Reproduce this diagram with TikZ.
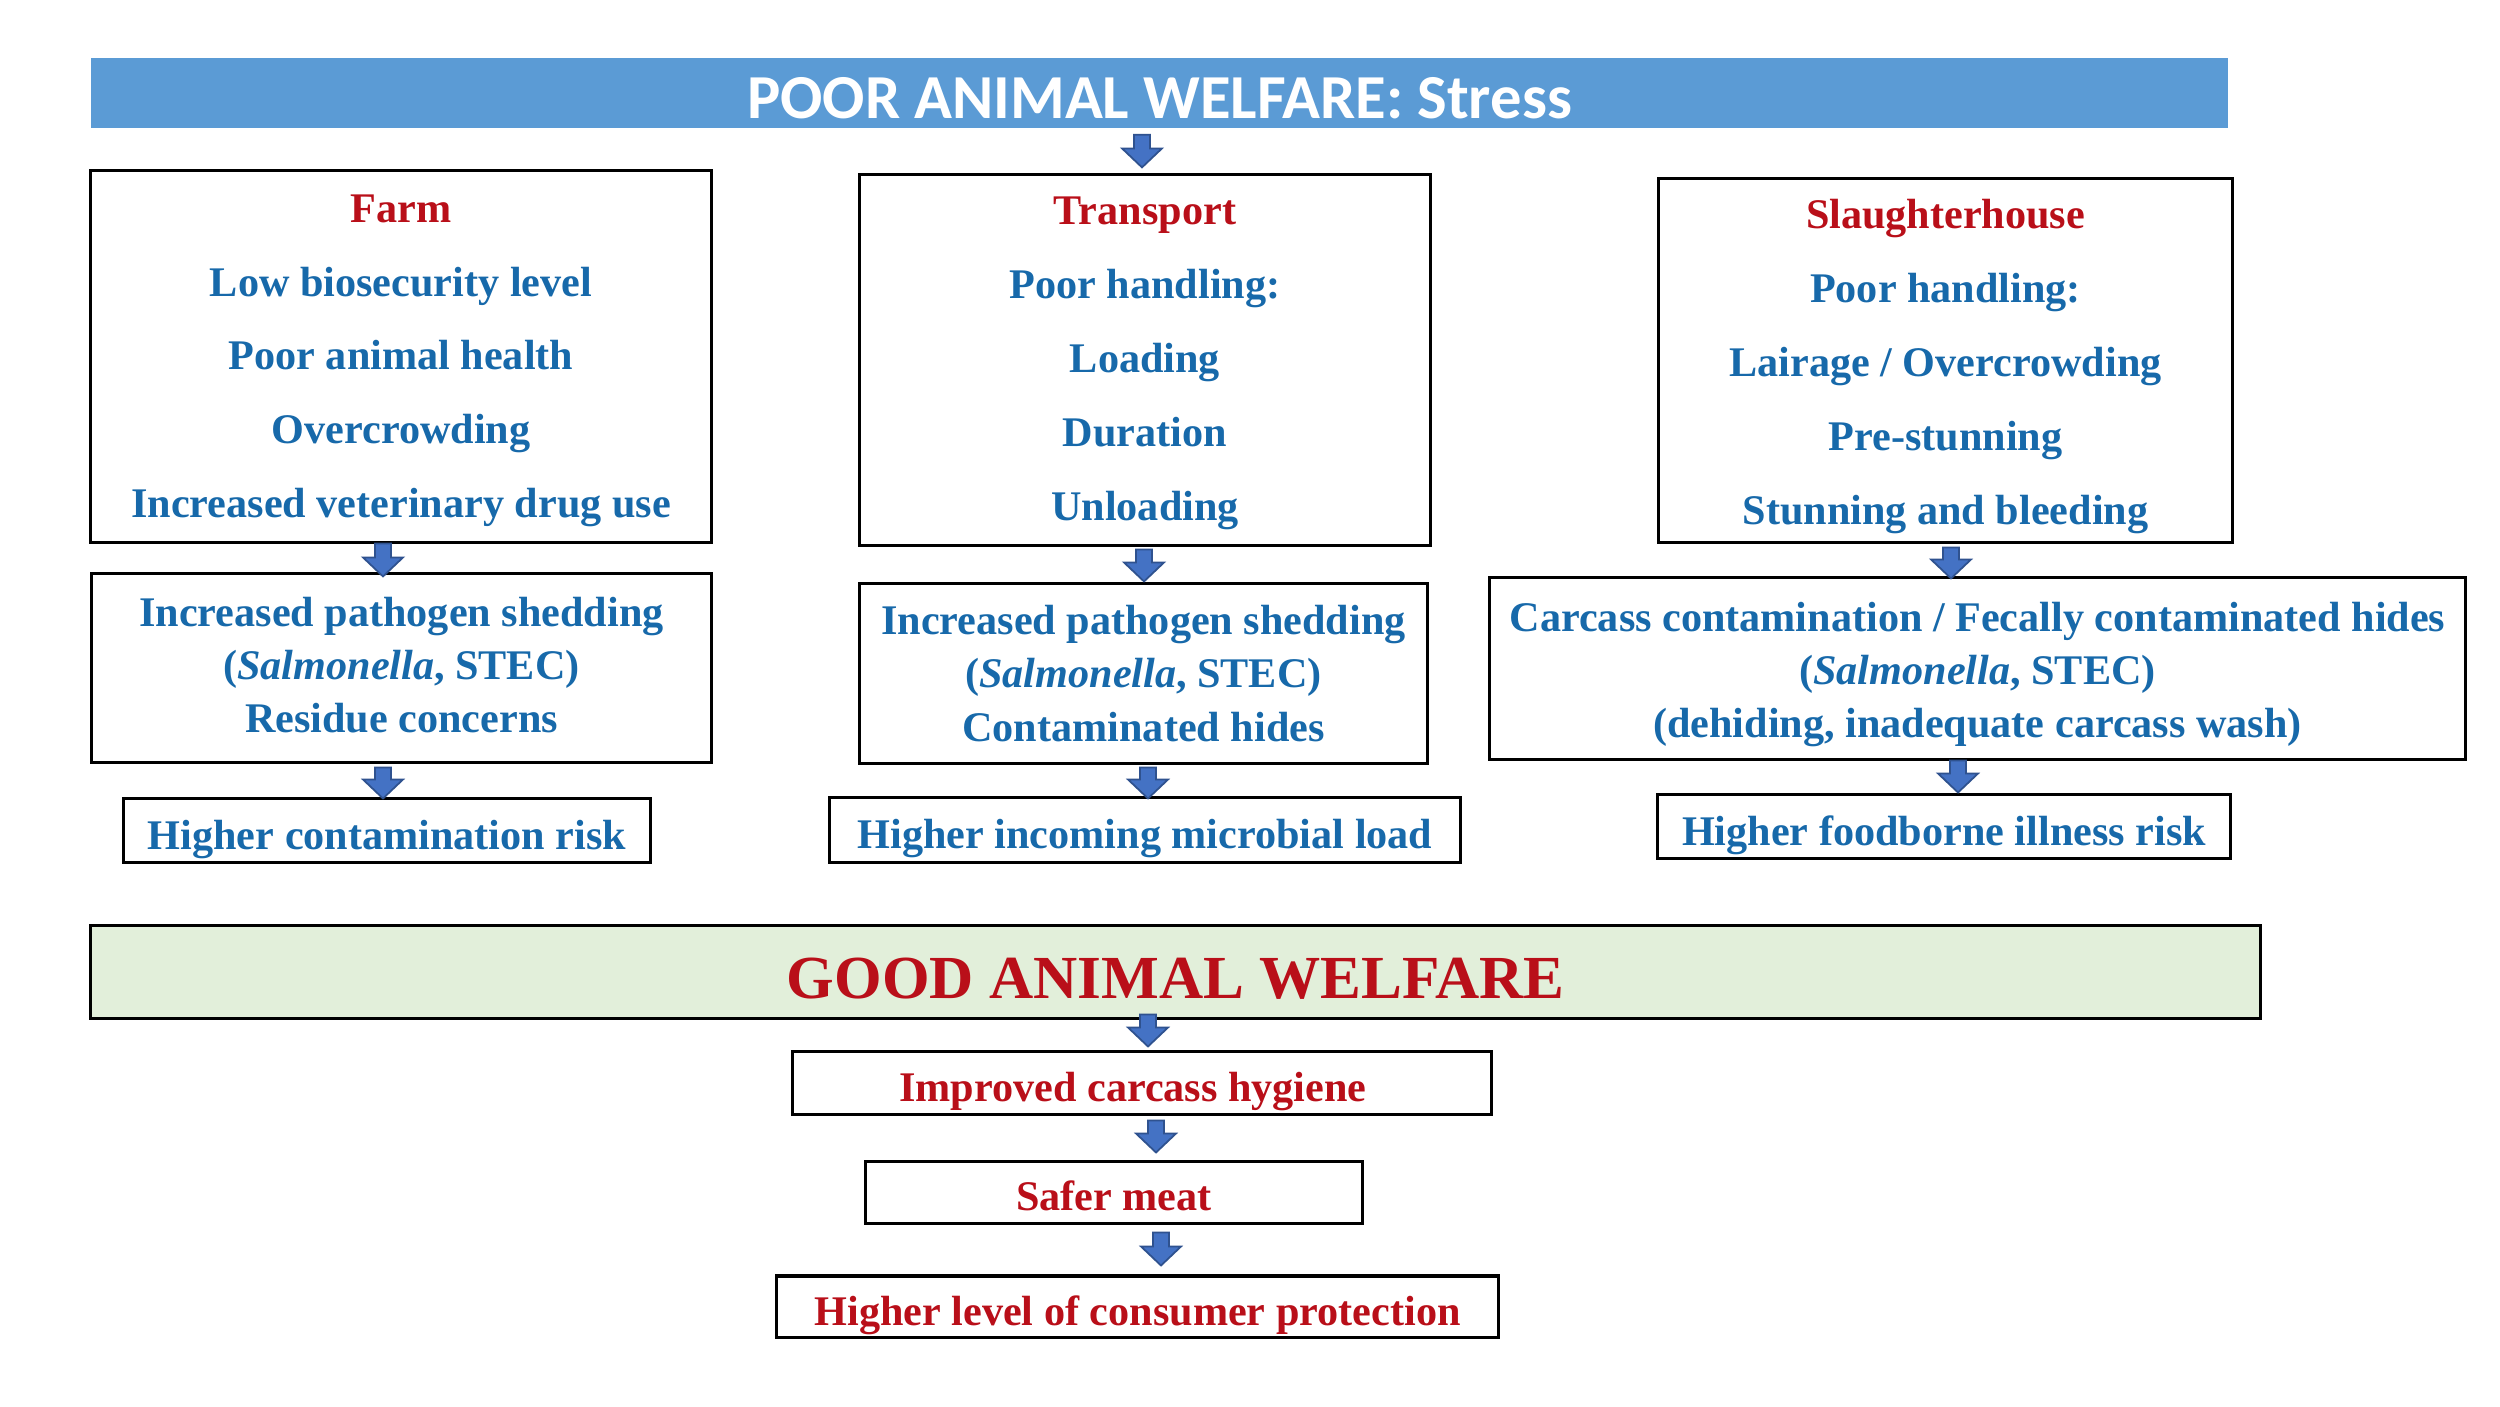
\documentclass[tikz,border=0pt]{standalone}
\usepackage{fontspec}
\setmainfont{Liberation Serif}
\newfontfamily\titlefont{Carlito}
\usetikzlibrary{calc}
\definecolor{blueT}{RGB}{23,105,170}
\definecolor{redT}{RGB}{185,15,25}
\definecolor{barB}{RGB}{91,155,213}
\definecolor{goodG}{RGB}{226,239,218}
\definecolor{arrF}{RGB}{68,114,196}
\definecolor{arrD}{RGB}{47,82,143}
\newcommand\blockarr[2]{%
  \path[fill=arrF, draw=arrD, line width=0.5pt] let \p1=(#1), \p2=(#2) in
  (\x1-0.08cm,\y1) -- (\x1+0.08cm,\y1) -- (\x1+0.08cm,\y2+0.19cm) -- (\x1+0.2cm,\y2+0.19cm)
  -- (\x1,\y2) -- (\x1-0.2cm,\y2+0.19cm) -- (\x1-0.08cm,\y2+0.19cm) -- cycle;}
\newcommand\topstrut[1]{\rule{0pt}{#1}}
\newcommand\botstrut[1]{\rule[-#1]{0pt}{0pt}}
\tikzset{
  box/.style={draw=black, line width=0.03cm, inner sep=0pt, align=center, text=blueT,
    font=\fontsize{12}{21}\selectfont\bfseries},
  box2/.style={box, font=\fontsize{12}{15.1}\selectfont\bfseries},
  onebox/.style={box, text height=0.37cm, text depth=0pt},
  redbox/.style={onebox, text=redT},
}
\begin{document}
\begin{tikzpicture}[x=0.01cm, y=-0.01cm]
\useasboundingbox[fill=white] (0,0) rectangle (2500,1406);
% title bar
\node[fill=barB, inner sep=0pt, minimum width=21.35cm, minimum height=0.7cm, text=white,
  text height=0.51cm, text depth=0pt,
  font=\titlefont\bfseries\fontsize{17.8}{20}\selectfont] (bar) at (1159.5,93) {POOR ANIMAL WELFARE: Stress};
% first row
\node[box, minimum width=6.2cm, minimum height=3.71cm] (farm) at (401,356.5)
  {\topstrut{0.36cm}\textcolor{redT}{Farm}\\Low biosecurity level\\Poor animal health\\Overcrowding\\Increased veterinary drug use};
\node[box, minimum width=5.7cm, minimum height=3.7cm] (trans) at (1145,360)
  {\topstrut{0.34cm}\textcolor{redT}{Transport}\\Poor handling:\\Loading\\Duration\\Unloading};
\node[box, minimum width=5.73cm, minimum height=3.63cm] (slau) at (1945.5,360.5)
  {\topstrut{0.41cm}\textcolor{redT}{Slaughterhouse}\\Poor handling:\\Lairage / Overcrowding\\Pre-stunning\\Stunning and bleeding};
% second row
\node[box2, minimum width=6.19cm, minimum height=1.88cm] (farm2) at (401.5,668)
  {Increased pathogen shedding\\(\textit{Salmonella}, STEC)\\Residue concerns\botstrut{0.06cm}};
\node[box2, minimum width=5.67cm, minimum height=1.79cm] (trans2) at (1143.5,673.5)
  {Increased pathogen shedding\\(\textit{Salmonella}, STEC)\\Contaminated hides};
\node[box2, minimum width=9.75cm, minimum height=1.81cm] (slau2) at (1977.5,668.5)
  {\topstrut{0.41cm}Carcass contamination / Fecally contaminated hides\\(\textit{Salmonella}, STEC)\\(dehiding, inadequate carcass wash)};
% third row
\node[onebox, minimum width=5.26cm, minimum height=0.63cm] (farm3) at (387,830.5) {Higher contamination risk};
\node[onebox, minimum width=6.3cm, minimum height=0.64cm] (trans3) at (1145,830) {Higher incoming microbial load};
\node[onebox, minimum width=5.72cm, minimum height=0.63cm] (slau3) at (1944,826.5) {Higher foodborne illness risk};
% good welfare
\node[box, fill=goodG, text=redT, minimum width=21.69cm, minimum height=0.92cm,
  text height=0.53cm, text depth=0pt,
  font=\fontsize{17.4}{20}\selectfont\bfseries] (good) at (1175.5,972) {GOOD ANIMAL WELFARE};
\node[redbox, minimum width=6.98cm, minimum height=0.62cm] (imp) at (1142,1083) {Improved carcass hygiene\hspace*{0.18cm}};
\node[redbox, minimum width=4.96cm, minimum height=0.61cm, text height=0.36cm] (safe) at (1114,1192.5) {Safer meat};
\node[redbox, minimum width=7.21cm, minimum height=0.61cm] (cons) at (1137.5,1306.5) {Higher level of consumer protection};
% arrows
\blockarr{$(bar.south)+(-17.5,6)$}{$(trans.north)+(0,-6)$}
\blockarr{$(farm.south)+(-18,0)$}{$(farm2.north)+(0,4)$}
\blockarr{$(farm2.south)+(-18.5,4)$}{$(farm3.north)+(0,1)$}
\blockarr{$(trans.south)+(-1,3)$}{$(trans2.north)+(0,-1)$}
\blockarr{$(trans2.south)+(4.5,3)$}{$(trans3.north)+(0,2)$}
\blockarr{$(slau.south)+(5.5,4)$}{$(slau2.north)+(0,2)$}
\blockarr{$(slau2.south)+(-19.5,0)$}{$(slau3.north)+(0,-1)$}
\blockarr{$(good.south)+(-27.5,-5)$}{$(imp.north)+(0,-4)$}
\blockarr{$(imp.south)+(14,5)$}{$(safe.north)+(0,-8)$}
\blockarr{$(safe.south)+(47,8)$}{$(cons.north)+(0,-9)$}
\end{tikzpicture}
\end{document}
